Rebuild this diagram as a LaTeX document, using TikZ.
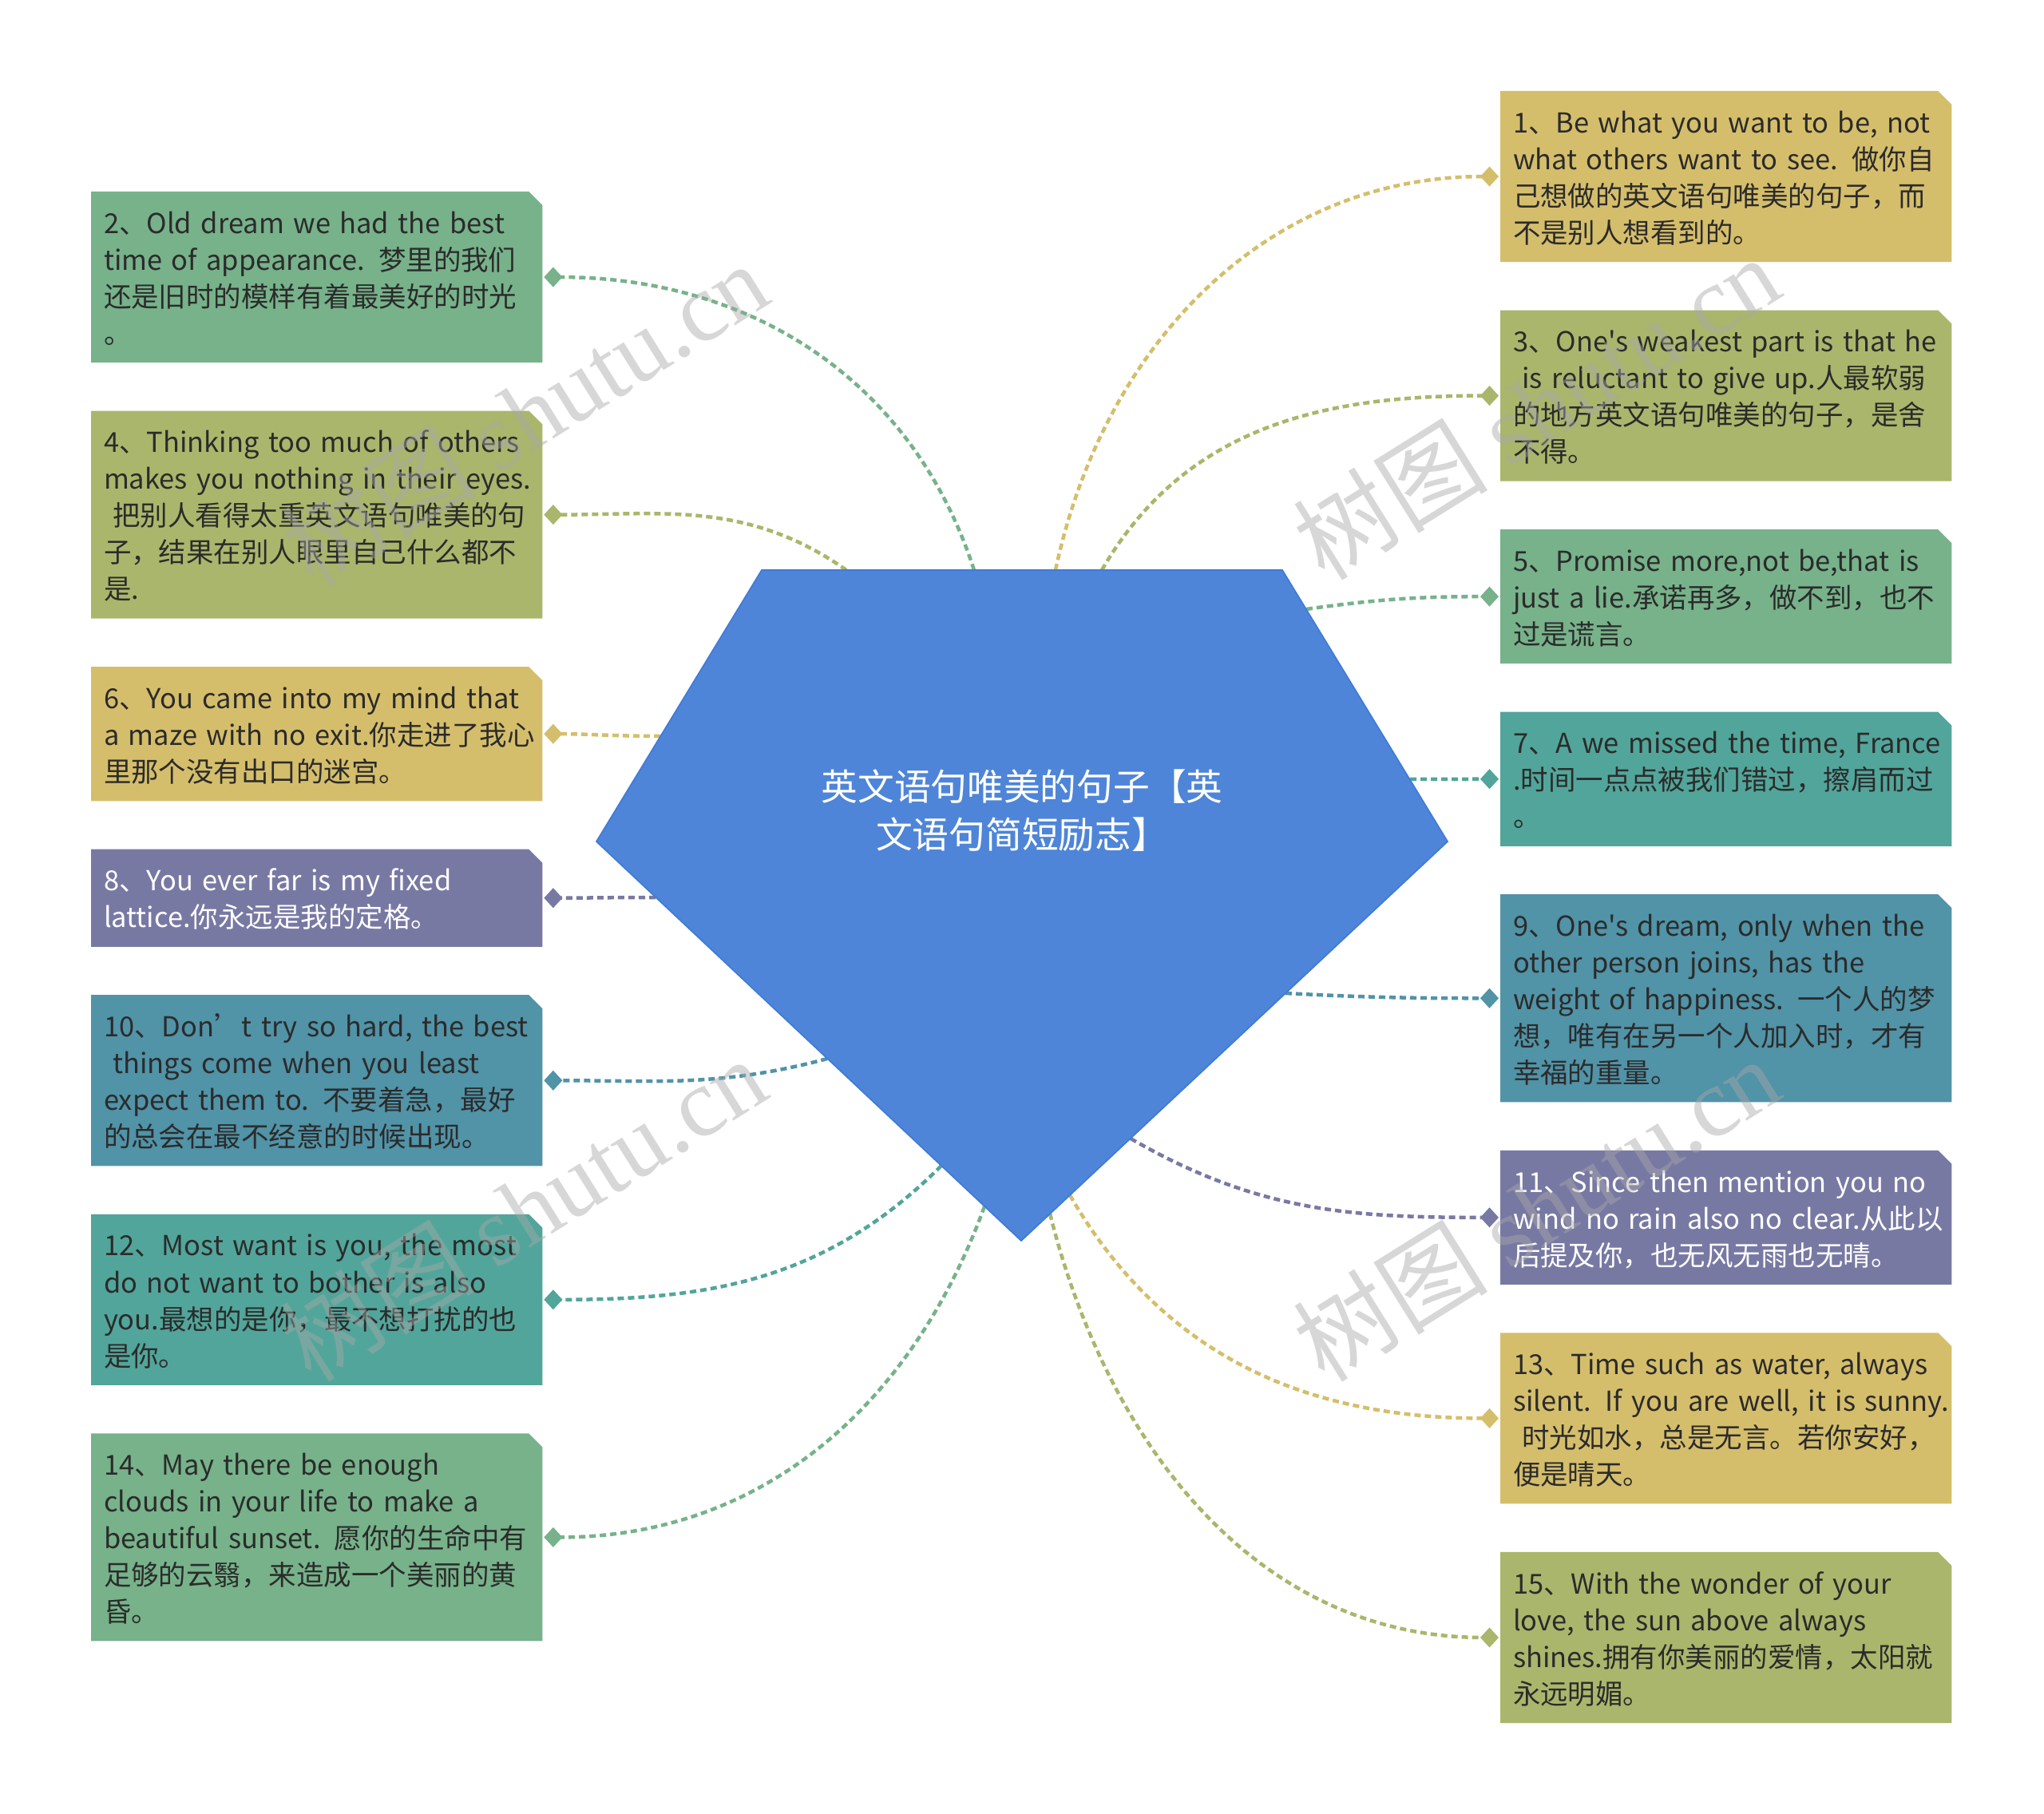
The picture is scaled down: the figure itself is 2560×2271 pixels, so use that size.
\documentclass[tikz,border=0pt]{standalone}
\usepackage{fontspec}
\usepackage{tikz}
\usetikzlibrary{arrows.meta,positioning,shapes.misc}
\newfontfamily\cjk{Noto Sans CJK SC}
\newfontfamily\wmserif{Liberation Serif}
\definecolor{cgold}{HTML}{D5BE6B}
\definecolor{cgreen}{HTML}{77B28A}
\definecolor{colive}{HTML}{AAB66B}
\definecolor{cteal}{HTML}{52A59A}
\definecolor{cpurple}{HTML}{7879A3}
\definecolor{csteel}{HTML}{5193A7}
\definecolor{ink}{HTML}{2B2B2B}
\definecolor{hub}{HTML}{4E85D8}
\definecolor{hubline}{HTML}{3F7BD9}
\definecolor{wmgray}{HTML}{A8A8A8}
\newcommand{\qtext}[1]{\raisebox{0pt}[\dimexpr\height+0.1cm\relax]{\begin{tabular}{@{}l@{}}#1\end{tabular}}}
\tikzset{
  quote/.style={chamfered rectangle, chamfered rectangle corners=north east,
                chamfered rectangle xsep=0.085cm, chamfered rectangle ysep=0.085cm,
                fill=#1, draw=none, outer sep=0pt, minimum width=5.65cm,
                text width=5.33cm, inner xsep=0.075cm, inner ysep=0pt,
                align=left, text=ink, font=\cjk\fontsize{9.8pt}{13.09pt}\selectfont},
  nlines/.style={minimum height={#1*0.46cm+0.3cm}},
  link/.style={draw=#1, line width=0.045cm, dash pattern=on 0.08cm off 0.05cm,
               -{Diamond[length=0.23cm,width=0.25cm,fill=#1]}, shorten >=0.02cm},
  title/.style={text=white, align=center, inner sep=0pt,
                font=\cjk\fontsize{13pt}{17pt}\selectfont},
  stamp/.style={text=wmgray, text opacity=0.45, rotate=32, inner sep=0pt,
                font=\cjk\fontsize{34.7pt}{40pt}\selectfont}
}
\begin{document}
\begin{tikzpicture}[x=0.01cm,y=0.01cm]
  \fill[white] (0,0) rectangle (2560,2271);
  \useasboundingbox (0,0) rectangle (2560,2271);

  % pentagon corners
  \coordinate (pTL) at (954,1557);
  \coordinate (pTR) at (1606,1557);
  \coordinate (pR) at (1813,1217);
  \coordinate (pB) at (1279,717);
  \coordinate (pL) at (747,1217);
  % where the links leave the pentagon
  \foreach \n/\x/\y in {1/1322/1557, 2/1220/1557, 3/1380/1557, 4/1060/1557,
                        5/1636/1508, 6/827/1349, 7/1766/1295, 8/821/1147,
                        9/1610/1027, 10/1036/945, 11/1416/845, 12/1179/811,
                        13/1340/774, 14/1233/760, 15/1315/751}
    \coordinate (s\n) at (\x,\y);

  % left column
  \node[quote=cgreen, nlines=4, anchor=north west] (q2) at (114,2031)
    {\qtext{2、Old dream we had the best\\time of appearance. 梦里的我们\\还是旧时的模样有着最美好的时光\\。}};
  \node[quote=colive, nlines=5, below=0.604cm of q2] (q4)
    {\qtext{4、Thinking too much of others\\makes you nothing in their eyes.\\\ 把别人看得太重英文语句唯美的句\\子，结果在别人眼里自己什么都不\\是.}};
  \node[quote=cgold, nlines=3, below=0.604cm of q4] (q6)
    {\qtext{6、You came into my mind that\\a maze with no exit.你走进了我心\\里那个没有出口的迷宫。}};
  \node[quote=cpurple, nlines=2, text=white, below=0.604cm of q6] (q8)
    {\qtext{8、You ever far is my fixed\\lattice.你永远是我的定格。}};
  \node[quote=csteel, nlines=4, below=0.604cm of q8] (q10)
    {\qtext{10、Don’t try so hard, the best\\\ things come when you least\\expect them to. 不要着急，最好\\的总会在最不经意的时候出现。}};
  \node[quote=cteal, nlines=4, below=0.604cm of q10] (q12)
    {\qtext{12、Most want is you, the most\\do not want to bother is also\\you.最想的是你，最不想打扰的也\\是你。}};
  \node[quote=cgreen, nlines=5, below=0.604cm of q12] (q14)
    {\qtext{14、May there be enough\\clouds in your life to make a\\beautiful sunset. 愿你的生命中有\\足够的云翳，来造成一个美丽的黄\\昏。}};

  % right column
  \node[quote=cgold, nlines=4, anchor=north west] (q1) at (1879,2157)
    {\qtext{1、Be what you want to be, not\\what others want to see. 做你自\\己想做的英文语句唯美的句子，而\\不是别人想看到的。}};
  \node[quote=colive, nlines=4, below=0.604cm of q1] (q3)
    {\qtext{3、One's weakest part is that he\\\ is reluctant to give up.人最软弱\\的地方英文语句唯美的句子，是舍\\不得。}};
  \node[quote=cgreen, nlines=3, below=0.604cm of q3] (q5)
    {\qtext{5、Promise more,not be,that is\\just a lie.承诺再多，做不到，也不\\过是谎言。}};
  \node[quote=cteal, nlines=3, below=0.604cm of q5] (q7)
    {\qtext{7、A we missed the time, France\\.时间一点点被我们错过，擦肩而过\\。}};
  \node[quote=csteel, nlines=5, below=0.604cm of q7] (q9)
    {\qtext{9、One's dream, only when the\\other person joins, has the\\weight of happiness. 一个人的梦\\想，唯有在另一个人加入时，才有\\幸福的重量。}};
  \node[quote=cpurple, nlines=3, text=white, below=0.604cm of q9] (q11)
    {\qtext{11、Since then mention you no\\wind no rain also no clear.从此以\\后提及你，也无风无雨也无晴。}};
  \node[quote=cgold, nlines=4, below=0.604cm of q11] (q13)
    {\qtext{13、Time such as water, always\\silent. If you are well, it is sunny.\\\ 时光如水，总是无言。若你安好，\\便是晴天。}};
  \node[quote=colive, nlines=4, below=0.604cm of q13] (q15)
    {\qtext{15、With the wonder of your\\love, the sun above always\\shines.拥有你美丽的爱情，太阳就\\永远明媚。}};

  % links
  \foreach \q/\c/\a in {2/cgreen/108, 4/colive/145, 6/cgold/180, 8/cpurple/180,
                        10/csteel/195, 12/cteal/225, 14/cgreen/250}
    \draw[link=\c] (s\q) to[out=\a, in=0] (q\q.east);
  \foreach \q/\c/\a in {1/cgold/78, 3/colive/60, 5/cgreen/8, 7/cteal/0,
                        9/csteel/-3, 11/cpurple/-30, 13/cgold/-60, 15/colive/-76}
    \draw[link=\c] (s\q) to[out=\a, in=180] (q\q.west);

  % centre
  \fill[hub, draw=hubline, line width=0.5pt] (pTL) -- (pTR) -- (pR) -- (pB) -- (pL) -- cycle;
  \node[title] (topic) at (1280,1256) {英文语句唯美的句子【英\\文语句简短励志】};

  % watermark
  \foreach \x/\y in {657/1753, 1924/1761, 655/757, 1924/757}
    \node[stamp] at (\x,\y) {树图 {\wmserif shutu.cn}};
\end{tikzpicture}
\end{document}
